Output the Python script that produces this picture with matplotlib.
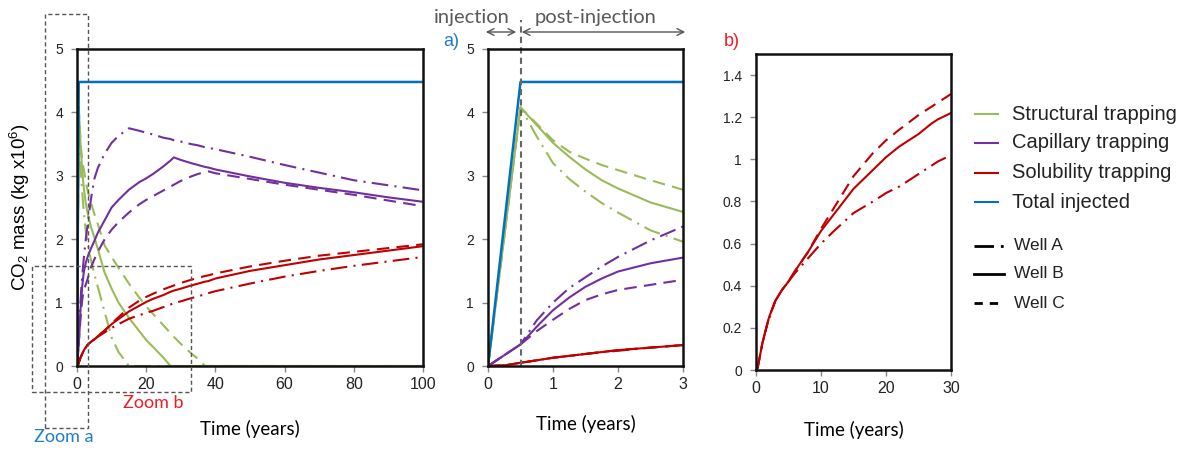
import matplotlib
matplotlib.use("Agg")
import matplotlib.pyplot as plt
from matplotlib.lines import Line2D
from matplotlib.patches import Rectangle, FancyArrowPatch

plt.rcParams['font.family'] = ['Liberation Sans', 'DejaVu Sans']
plt.rcParams['mathtext.fontset'] = 'custom'
plt.rcParams['mathtext.rm'] = 'Liberation Sans'
plt.rcParams['mathtext.it'] = 'Liberation Sans:italic'
plt.rcParams['mathtext.default'] = 'regular'

# time axis (years)
t_years = [0, 0.25, 0.5, 0.75, 1, 1.25, 1.5, 1.75, 2, 2.5, 3, 4, 5, 6, 8, 10, 12, 15, 18, 20,
           22, 25, 27, 28, 30, 33, 35, 37, 38, 40, 50, 60, 70, 80, 90, 100]

# CO2 mass (kg x1e6)
total_injected = [0, 2.24] + [4.48] * 34

structural_A = [0, 2.04, 4.08, 3.62, 3.2, 2.95, 2.75, 2.57, 2.42, 2.14, 1.96, 1.68, 1.45, 1.25,
                0.85, 0.45, 0.22, 0, 0, 0, 0, 0, 0, 0, 0, 0, 0, 0, 0, 0, 0, 0, 0, 0, 0, 0]
structural_B = [0, 2.04, 4.08, 3.8, 3.52, 3.3, 3.1, 2.93, 2.8, 2.58, 2.43, 2.2, 2.03, 1.85,
                1.47, 1.22, 1.0, 0.76, 0.55, 0.41, 0.3, 0.13, 0, 0, 0, 0, 0, 0, 0, 0, 0, 0,
                0, 0, 0, 0]
structural_C = [0, 2.04, 4.08, 3.82, 3.56, 3.38, 3.27, 3.17, 3.09, 2.93, 2.78, 2.58, 2.4, 2.24,
                1.9, 1.72, 1.55, 1.3, 1.08, 0.94, 0.82, 0.64, 0.52, 0.46, 0.35, 0.2, 0.11, 0,
                0, 0, 0, 0, 0, 0, 0, 0]

capillary_A = [0, 0.17, 0.34, 0.72, 1.0, 1.23, 1.4, 1.57, 1.72, 1.98, 2.2, 2.62, 2.95, 3.12,
               3.35, 3.52, 3.63, 3.75, 3.71, 3.68, 3.65, 3.6, 3.58, 3.56, 3.54, 3.5, 3.48,
               3.45, 3.44, 3.42, 3.3, 3.17, 3.05, 2.93, 2.85, 2.77]
capillary_B = [0, 0.17, 0.34, 0.62, 0.88, 1.08, 1.25, 1.38, 1.49, 1.62, 1.71, 1.85, 1.97, 2.1,
               2.3, 2.5, 2.62, 2.78, 2.9, 2.96, 3.03, 3.15, 3.24, 3.29, 3.25, 3.2, 3.17,
               3.14, 3.13, 3.1, 2.99, 2.89, 2.81, 2.74, 2.66, 2.59]
capillary_C = [0, 0.17, 0.34, 0.55, 0.73, 0.9, 1.04, 1.13, 1.2, 1.28, 1.36, 1.55, 1.68, 1.8,
               2.0, 2.15, 2.27, 2.42, 2.55, 2.62, 2.68, 2.77, 2.83, 2.86, 2.92, 2.99, 3.03,
               3.06, 3.07, 3.04, 2.95, 2.86, 2.78, 2.7, 2.61, 2.52]

solubility_A = [0, 0.01, 0.05, 0.09, 0.13, 0.16, 0.19, 0.22, 0.24, 0.29, 0.33, 0.38, 0.42, 0.46,
                0.53, 0.6, 0.66, 0.745, 0.8, 0.84, 0.87, 0.93, 0.97, 0.99, 1.02, 1.07, 1.1,
                1.13, 1.15, 1.18, 1.3, 1.41, 1.5, 1.58, 1.65, 1.72]
solubility_B = [0, 0.01, 0.05, 0.09, 0.13, 0.16, 0.19, 0.22, 0.25, 0.29, 0.33, 0.38, 0.42, 0.47,
                0.56, 0.66, 0.74, 0.86, 0.95, 1.01, 1.06, 1.12, 1.17, 1.19, 1.22, 1.27, 1.3,
                1.33, 1.34, 1.38, 1.5, 1.59, 1.68, 1.75, 1.82, 1.89]
solubility_C = [0, 0.01, 0.05, 0.09, 0.13, 0.16, 0.19, 0.22, 0.25, 0.29, 0.33, 0.38, 0.42, 0.47,
                0.56, 0.67, 0.77, 0.92, 1.03, 1.09, 1.14, 1.21, 1.25, 1.27, 1.31, 1.36, 1.39,
                1.42, 1.43, 1.46, 1.57, 1.66, 1.74, 1.8, 1.86, 1.92]

mechanisms = ['Structural trapping', 'Capillary trapping', 'Solubility trapping', 'Total injected']
wells = ['Well A', 'Well B', 'Well C']

GREEN, PURPLE, RED, BLUE = '#9BBB59', '#7030A0', '#C00000', '#0070C0'
mech_colors = [GREEN, PURPLE, RED, BLUE]
well_styles = [(0, (8, 3, 1, 3)), '-', (0, (6, 3.5))]
legend_styles = [(0, (7, 2.5, 1, 2.5)), '-', (0, (3, 2.5))]

series = {
    'Structural trapping': [structural_A, structural_B, structural_C],
    'Capillary trapping': [capillary_A, capillary_B, capillary_C],
    'Solubility trapping': [solubility_A, solubility_B, solubility_C],
}

W, H = 1188, 450


def fx(px):
    return px / W


def fy(py):
    return 1 - py / H


fig = plt.figure(figsize=(W / 100, H / 100), dpi=100)
ax1 = fig.add_axes([fx(77), fy(366), 346 / W, 317 / H])
ax2 = fig.add_axes([fx(488), fy(366), 195 / W, 317 / H])
ax3 = fig.add_axes([fx(756), fy(370), 195 / W, 316 / H])

LW = 1.5
for ax in (ax1, ax2):
    for name, color in zip(mechanisms[:3], mech_colors[:3]):
        for vals, ls in zip(series[name], well_styles):
            ax.plot(t_years, vals, color=color, ls=ls, lw=LW)
    ax.plot(t_years, total_injected, color=BLUE, lw=LW + 0.3)

for vals, ls in zip(series['Solubility trapping'], well_styles):
    ax3.plot(t_years, vals, color=RED, ls=ls, lw=LW)

ax1.set_xlim(0, 100)
ax1.set_ylim(0, 5)
ax1.set_xticks(range(0, 101, 20))
ax1.set_yticks(range(0, 6))

ax2.set_xlim(0, 3)
ax2.set_ylim(0, 5)
ax2.set_xticks(range(0, 4))
ax2.set_yticks(range(0, 6))

ax3.set_xlim(0, 30)
ax3.set_ylim(0, 1.5)
ax3.set_xticks(range(0, 31, 10))
ax3.set_yticks([0, 0.2, 0.4, 0.6, 0.8, 1.0, 1.2, 1.4])
ax3.set_yticklabels(['0', '0.2', '0.4', '0.6', '0.8', '1', '1.2', '1.4'])

for ax in (ax1, ax2, ax3):
    for sp in ax.spines.values():
        sp.set_linewidth(1.8)
        sp.set_color('#111111')
    ax.tick_params(direction='out', length=4, width=1, color='#888888', labelcolor='#222222')
    ax.tick_params(axis='y', labelsize=10, pad=6)
    ax.tick_params(axis='x', labelsize=11.5, pad=4)
    ax.set_xlabel('Time (years)', fontsize=13.5, family=['Lato', 'DejaVu Sans'])

ax1.xaxis.set_label_coords(0.5, -0.17)
ax2.xaxis.set_label_coords(0.5, -0.155)
ax3.xaxis.set_label_coords(0.5, -0.16)
ax1.set_ylabel('CO$_2$ mass (kg x10$^6$)', fontsize=13.5)
ax1.yaxis.set_label_coords(-0.13, 0.5)

# injection / post-injection split in panel a)
ax2.plot([0.5, 0.5], [0, 5.45], color='#666666', lw=1.5, ls=(0, (3, 2)), clip_on=False)
for x0, x1 in [(483, 519), (519, 688)]:
    fig.add_artist(FancyArrowPatch((fx(x0), fy(32)), (fx(x1), fy(32)),
                                   transform=fig.transFigure, arrowstyle='<->',
                                   mutation_scale=12, color='#555555', lw=1))
fig.text(fx(472), fy(17), 'injection', ha='center', va='center', fontsize=14.5,
         color='#595959', family=['Lato', 'DejaVu Sans'])
fig.text(fx(596), fy(17), 'post-injection', ha='center', va='center', fontsize=14.5,
         color='#595959', family=['Lato', 'DejaVu Sans'])
fig.text(fx(451), fy(42), 'a)', ha='center', va='center', fontsize=13, color='#1f7dc4')
fig.text(fx(732), fy(42), 'b)', ha='center', va='center', fontsize=13, color='#ee1c25')

# zoom boxes on the main panel
box_style = dict(fill=False, ls=(0, (3, 2)), ec='#555555', lw=1, transform=fig.transFigure)
fig.add_artist(Rectangle((fx(45), fy(428)), 43 / W, 414 / H, **box_style))
fig.add_artist(Rectangle((fx(32), fy(392)), 159 / W, 126 / H, **box_style))
fig.text(fx(64), fy(437), 'Zoom a', ha='center', va='center', fontsize=13,
         color='#1f7dc4', family=['Lato', 'DejaVu Sans'])
fig.text(fx(153), fy(403), 'Zoom b', ha='center', va='center', fontsize=13,
         color='#ee1c25', family=['Lato', 'DejaVu Sans'])

# legend
for name, color, ypx in zip(mechanisms, mech_colors, [114, 143, 173, 202]):
    fig.add_artist(Line2D([fx(975), fx(998)], [fy(ypx), fy(ypx)], color=color, lw=1.5,
                          transform=fig.transFigure))
    fig.text(fx(1012), fy(ypx), name, ha='left', va='center', fontsize=14.5, color='#222222')
for name, ls, ypx in zip(wells, legend_styles, [246, 274, 303]):
    fig.add_artist(Line2D([fx(974), fx(1004)], [fy(ypx), fy(ypx)], color='black', lw=2,
                          ls=ls, transform=fig.transFigure))
    fig.text(fx(1014), fy(ypx), name, ha='left', va='center', fontsize=12.5, color='#222222')

fig.savefig('out.png', dpi=100)
